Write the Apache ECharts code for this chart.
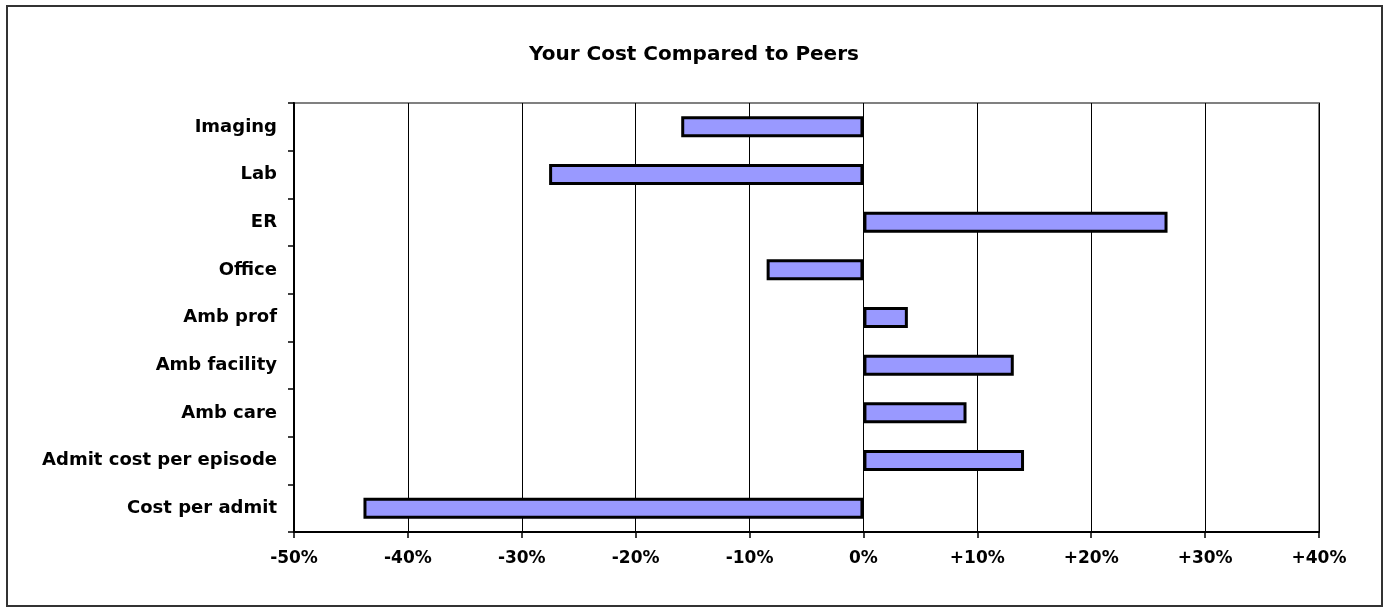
<!DOCTYPE html>
<html>
<head>
<meta charset="utf-8">
<script src="https://cdn.jsdelivr.net/npm/echarts@6/dist/echarts.min.js"></script>
<style>
html,body{margin:0;padding:0;background:#fff;}
#chart{width:1388px;height:612px;}
</style>
</head>
<body>
<div id="chart"></div>
<script>
const categories = ["Imaging","Lab","ER","Office","Amb prof","Amb facility","Amb care","Admit cost per episode","Cost per admit"];
const values = [-16.0, -27.6, 26.7, -8.5, 3.9, 13.2, 9.05, 14.1, -43.9];
const xTicks = [-50, -40, -30, -20, -10, 0, 10, 20, 30, 40];
const titleText = "Your Cost Compared to Peers";

const chart = echarts.init(document.getElementById('chart'), null, {renderer:'canvas'});
const FONT = 'DejaVu Sans';
chart.setOption({
  backgroundColor:'#ffffff',
  animation:false,
  title:{
    text:titleText, left:'center', top:40,
    textStyle:{fontFamily:FONT, fontWeight:'bold', fontSize:20, color:'#000'}
  },
  graphic:[{
    type:'rect', shape:{x:7,y:6,width:1375,height:600},
    style:{fill:'none', stroke:'#333', lineWidth:2}, silent:true, z:-1
  }],
  grid:{left:294, right:69, top:103, bottom:80, show:true, borderColor:'#808080', borderWidth:2, backgroundColor:'#fff'},
  xAxis:{
    type:'value', min:xTicks[0], max:xTicks[xTicks.length-1], interval:10, position:'bottom',
    axisLine:{show:true, onZero:false, lineStyle:{color:'#000', width:2}},
    axisTick:{show:true, length:6, lineStyle:{color:'#000', width:1.5}},
    splitLine:{show:true, lineStyle:{color:'#000', width:1}},
    axisLabel:{
      margin:18, fontFamily:FONT, fontWeight:'bold', fontSize:17, color:'#000',
      formatter:v => v>0 ? '+'+v+'%' : v+'%'
    }
  },
  yAxis:{
    type:'category', data:categories, inverse:true, position:'left',
    axisLine:{show:true, onZero:false, lineStyle:{color:'#000', width:2}},
    axisTick:{show:true, length:6, alignWithLabel:false, lineStyle:{color:'#000', width:1.5}},
    axisLabel:{margin:17, fontFamily:FONT, fontWeight:'bold', fontSize:18, color:'#000'},
    splitLine:{show:false}
  },
  series:[{
    type:'bar', data:values, barWidth:'44%',
    itemStyle:{color:'#9999FF', borderColor:'#000', borderWidth:3}
  }]
});
</script>
</body>
</html>
